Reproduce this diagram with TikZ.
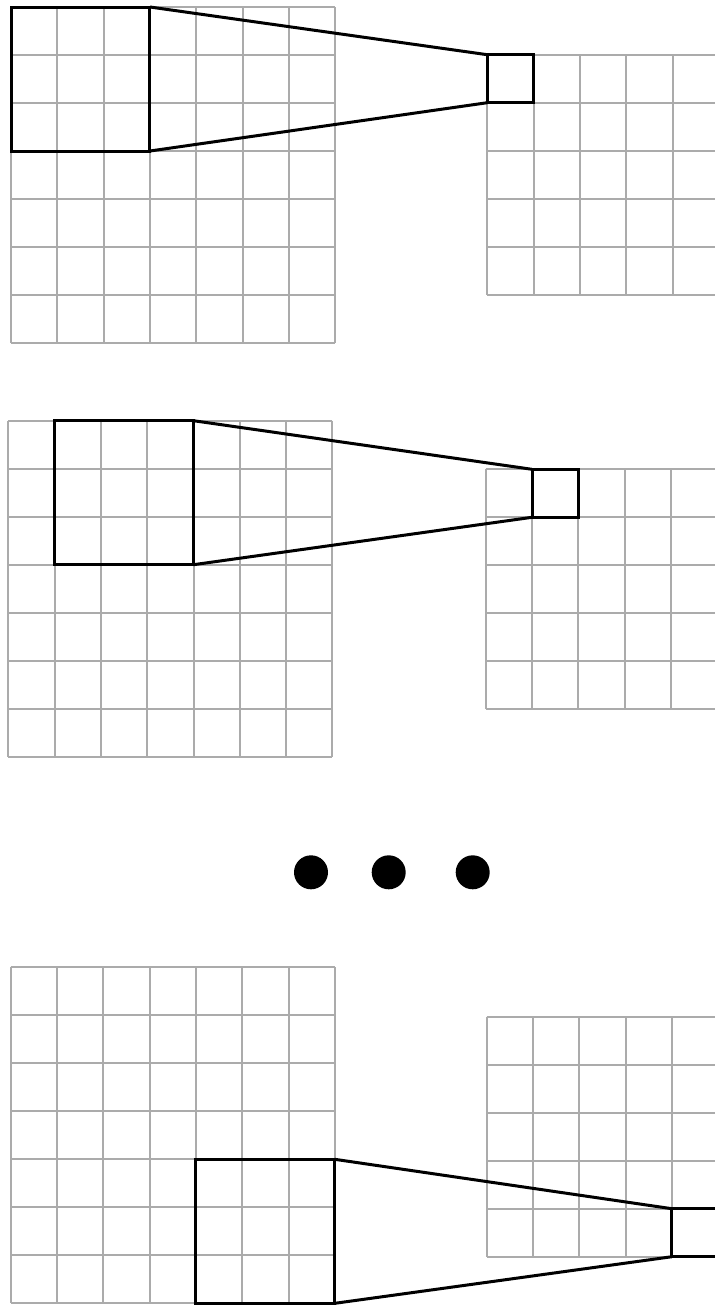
\documentclass[tikz,border=0pt]{standalone}
\usepackage{xcolor}
\usetikzlibrary{positioning}
\begin{document}
\begin{tikzpicture}[
  x=1pt, y=-1pt,
  cellgrid/.style={draw=black!33, line width=2pt},
  window/.style={draw, line width=3pt, inner sep=0pt, outer sep=0pt, anchor=north west},
  link/.style={line width=3pt},
  dotmark/.style={circle, fill, inner sep=0pt, minimum size=34pt}
]
\useasboundingbox (0,0) rectangle (715,1307);
\clip (0,0) rectangle (715,1307);
% input x/y, output x/y, window col/row, output cell col/row, name
\foreach \gx/\gy/\hx/\hy/\wcol/\wrow/\ccol/\crow/\p in {
    11/7/487.3/54.7/0/0/0/0/a,
    8.3/420.7/485.7/469.3/1/0/1/0/b,
    10.7/967.3/486.7/1016.7/4/4/4/4/c}{
  \foreach \k in {0,...,7}{
    \draw[cellgrid] (\gx+\k*46.3,\gy) -- ++(0,336);
    \draw[cellgrid] (\gx,\gy+\k*48) -- ++(324.1,0);
  }
  \foreach \k in {0,...,5}{
    \draw[cellgrid] (\hx+\k*46.3,\hy) -- ++(0,240);
    \draw[cellgrid] (\hx,\hy+\k*48) -- ++(231.5,0);
  }
  \node[window, minimum width=138.9pt, minimum height=144pt] (win\p) at (\gx+\wcol*46.3,\gy+\wrow*48) {};
  \node[window, minimum width=46.3pt, minimum height=48pt] (out\p) at (\hx+\ccol*46.3,\hy+\crow*48) {};
  \draw[link] (win\p.north east) -- (out\p.north west);
  \draw[link] (win\p.south east) -- (out\p.south west);
}
\foreach \dx [count=\d] in {311,388.7,472.7}
  \node[dotmark] (dot\d) at (\dx,872.3) {};
\end{tikzpicture}
\end{document}
